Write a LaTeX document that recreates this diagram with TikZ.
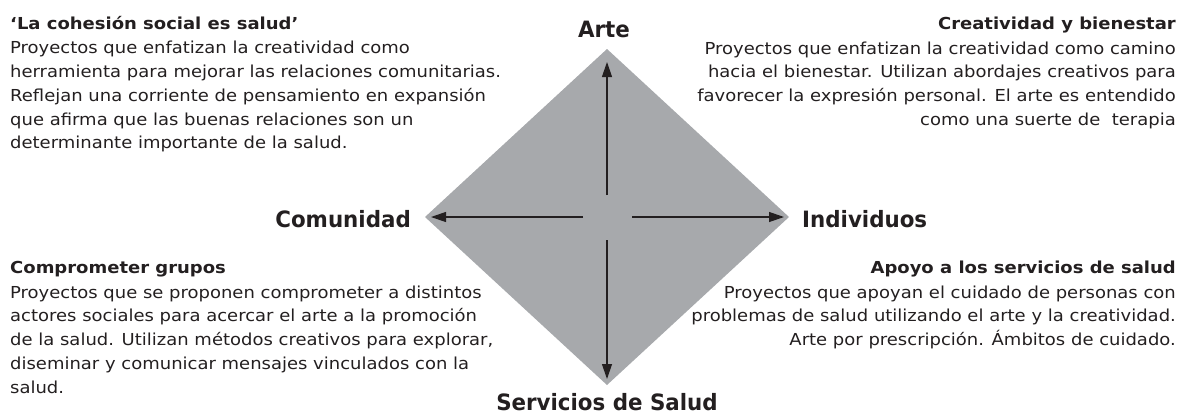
\documentclass[tikz,border=0pt]{standalone}
\usepackage{fontspec}
\setmainfont{DejaVu Sans}[FakeStretch=1.09]
\newfontfamily\cornerfont{DejaVu Sans}[FakeStretch=0.95]
\usetikzlibrary{arrows.meta,calc}
\definecolor{ink}{HTML}{231F20}
\definecolor{rhombus}{HTML}{A7A9AC}

\begin{document}
\begin{tikzpicture}[x=1pt,y=-1pt,
  >={Triangle[length=15pt,width=10pt]},
  axis/.style={->,draw=ink,line width=1.2pt},
  corner/.style={text=ink,inner sep=0pt,font=\cornerfont\bfseries\fontsize{22.5}{26}\selectfont},
  blurb/.style={text=ink,inner sep=0pt,font=\fontsize{16.5}{23.7}\selectfont}]
  \useasboundingbox (0,0) rectangle (1186,416);

  \coordinate (c) at (607,217);
  \coordinate (top) at (607,49);
  \coordinate (bot) at (607,385);
  \coordinate (lft) at (425,217);
  \coordinate (rgt) at (789,217);
  \fill[rhombus] (top) -- (rgt) -- (bot) -- (lft) -- cycle;

  \coordinate (up0) at ($(c)+(0,-22)$);
  \coordinate (up1) at ($(top)+(0,13)$);
  \coordinate (dn0) at ($(c)+(0,23)$);
  \coordinate (dn1) at ($(bot)+(0,-6)$);
  \coordinate (lf0) at ($(c)+(-24,0)$);
  \coordinate (lf1) at ($(lft)+(6,0)$);
  \coordinate (rt0) at ($(c)+(25,0)$);
  \coordinate (rt1) at ($(rgt)+(-5,0)$);
  \path
  (up0) edge[axis] (up1)
  (dn0) edge[axis] (dn1)
  (lf0) edge[axis] (lf1)
  (rt0) edge[axis] (rt1)
  ;

  \node[corner,anchor=base] (arte) at (604,37) {Arte};
  \node[corner,anchor=base east] (comunidad) at (411,227) {Comunidad};
  \node[corner,anchor=base west] (individuos) at (802,227) {Individuos};
  \node[corner,anchor=base] (servicios) at (607,410) {Servicios de Salud};

  \node[blurb,anchor=north west,align=left] (cohesion) at (10,16)
  {\textbf{‘La cohesión social es salud’}\\[0.8pt]
   Proyectos que enfatizan la creatividad como\\
   herramienta para mejorar las relaciones comunitarias.\\
   Reflejan una corriente de pensamiento en expansión\\
   que afirma que las buenas relaciones son un\\
   determinante importante de la salud.};
  \node[blurb,anchor=north east,align=right] (bienestar) at (1176,16.8)
  {\textbf{Creatividad y bienestar}\\[0.8pt]
   Proyectos que enfatizan la creatividad como camino\\
   hacia el bienestar. Utilizan abordajes creativos para\\
   favorecer la expresión personal. El arte es entendido\\
   como una suerte de\ \ terapia};
  \node[blurb,anchor=north west,align=left] (grupos) at (10,261.3)
  {\textbf{Comprometer grupos}\\[0.8pt]
   Proyectos que se proponen comprometer a distintos\\
   actores sociales para acercar el arte a la promoción\\
   de la salud. Utilizan métodos creativos para explorar,\\
   diseminar y comunicar mensajes vinculados con la\\
   salud.};
  \node[blurb,anchor=north east,align=right] (apoyo) at (1176,261)
  {\textbf{Apoyo a los servicios de salud}\\[0.8pt]
   Proyectos que apoyan el cuidado de personas con\\
   problemas de salud utilizando el arte y la creatividad.\\
   Arte por prescripción. Ámbitos de cuidado.};
\end{tikzpicture}
\end{document}
